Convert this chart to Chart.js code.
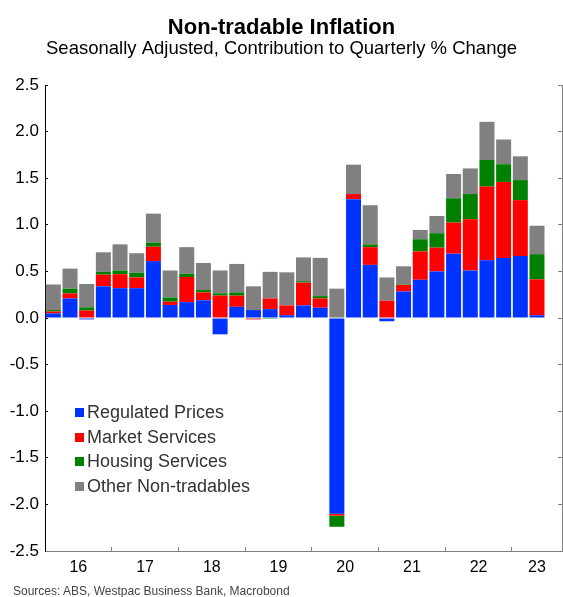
<!DOCTYPE html>
<html>
<head>
<meta charset="utf-8">
<script src="https://cdn.jsdelivr.net/npm/chart.js@4.4.0/dist/chart.umd.min.js"></script>
<style>
  html, body { margin: 0; padding: 0; background: #fff; }
  #wrap { position: relative; width: 563px; height: 597px; font-family: "Liberation Sans", Arial, sans-serif; }
  #legend { position: absolute; left: 75px; top: 400px; }
  .item { display: flex; align-items: center; height: 24.8px; font-size: 18px; color: #333; white-space: nowrap; }
  .box { width: 9px; height: 9px; margin-right: 3px; }
  #source { position: absolute; left: 13px; top: 584px; font-size: 12px; color: #444; white-space: nowrap; }
</style>
</head>
<body>
<div id="wrap">
  <canvas id="chart" width="563" height="597"></canvas>
  <div id="legend"></div>
  <div id="source">Sources: ABS, Westpac Business Bank, Macrobond</div>
</div>
<script>
const quarters = [
  "2016 Q1", "2016 Q2", "2016 Q3", "2016 Q4",
  "2017 Q1", "2017 Q2", "2017 Q3", "2017 Q4",
  "2018 Q1", "2018 Q2", "2018 Q3", "2018 Q4",
  "2019 Q1", "2019 Q2", "2019 Q3", "2019 Q4",
  "2020 Q1", "2020 Q2", "2020 Q3", "2020 Q4",
  "2021 Q1", "2021 Q2", "2021 Q3", "2021 Q4",
  "2022 Q1", "2022 Q2", "2022 Q3", "2022 Q4",
  "2023 Q1", "2023 Q2"
];

const regulated = [0.05, 0.21, -0.015, 0.34, 0.32, 0.32, 0.61, 0.14, 0.17, 0.19, -0.175, 0.12, 0.085, 0.095, 0.03,
  0.135, 0.11, -2.1, 1.275, 0.57, -0.035, 0.285, 0.41, 0.5, 0.69, 0.51, 0.62, 0.645, 0.665, 0.03];
const market = [0.02, 0.055, 0.08, 0.125, 0.15, 0.115, 0.155, 0.035, 0.27, 0.085, 0.24, 0.12, -0.015, 0.115, 0.105,
  0.245, 0.1, -0.02, 0.055, 0.19, 0.185, 0.07, 0.305, 0.255, 0.335, 0.55, 0.79, 0.815, 0.6, 0.385];
const housing = [0.015, 0.05, 0.035, 0.03, 0.04, 0.05, 0.045, 0.045, 0.035, 0.025, 0.025, 0.035, 0, -0.01, 0,
  0.015, 0.025, -0.12, 0, 0.03, 0, 0.005, 0.13, 0.155, 0.26, 0.27, 0.285, 0.19, 0.215, 0.27];
const other = [0.275, 0.215, 0.25, 0.21, 0.28, 0.21, 0.31, 0.29, 0.285, 0.29, 0.245, 0.305, 0.255, 0.285, 0.355,
  0.255, 0.41, 0.315, 0.315, 0.42, 0.25, 0.195, 0.1, 0.185, 0.26, 0.275, 0.41, 0.265, 0.255, 0.305];

const years = [2016, 2017, 2018, 2019, 2020, 2021, 2022, 2023];
const yearLabels = ["16", "17", "18", "19", "20", "21", "22", "23"];

const xMin = 2016, xMax = 2023.75;

// quarter -> position on a continuous year axis (middle of the quarter)
const xPos = quarters.map(q => {
  const [y, n] = q.split(" Q");
  return Number(y) + (Number(n) - 0.5) / 4;
});
const yearBounds = years.slice(1);
const yearCentres = years.map(y => (y + Math.min(y + 1, xMax)) / 2);

const fontFamily = '"Liberation Sans", Arial, sans-serif';
Chart.defaults.font.family = fontFamily;

const chart = new Chart(document.getElementById("chart"), {
  type: "bar",
  data: {
    labels: xPos,
    datasets: [
      { label: "Regulated Prices", data: regulated, backgroundColor: "#0033ff" },
      { label: "Market Services", data: market, backgroundColor: "#ff0000" },
      { label: "Housing Services", data: housing, backgroundColor: "#008000" },
      { label: "Other Non-tradables", data: other, backgroundColor: "#808080" }
    ]
  },
  options: {
    responsive: false,
    animation: false,
    barPercentage: 0.9,
    categoryPercentage: 1,
    layout: { padding: 0 },
    plugins: {
      legend: { display: false },
      tooltip: { enabled: false },
      title: {
        display: true,
        text: "Non-tradable Inflation",
        color: "#000",
        font: { size: 22, weight: "bold", lineHeight: 1 },
        padding: { top: 17, bottom: 0 }
      },
      subtitle: {
        display: true,
        text: "Seasonally Adjusted, Contribution to Quarterly % Change",
        color: "#000",
        font: { size: 18.5, lineHeight: 1 },
        padding: { top: 1, bottom: 26.5 }
      }
    },
    scales: {
      x: {
        type: "linear",
        min: xMin,
        max: xMax,
        offset: false,
        stacked: true,
        weight: 0,
        afterBuildTicks: s => { s.ticks = yearBounds.map(v => ({ value: v })); },
        afterFit: s => { s.height = 0; },
        ticks: { display: false },
        grid: { offset: false, drawOnChartArea: false, tickLength: -4, color: "#808080" },
        border: { color: "#808080" }
      },
      xl: {
        type: "linear",
        position: "bottom",
        min: xMin,
        max: xMax,
        offset: false,
        weight: 1,
        afterBuildTicks: s => { s.ticks = yearCentres.map(v => ({ value: v })); },
        afterFit: s => { s.height = 46; },
        grid: { display: false, drawTicks: false, offset: false },
        border: { display: false },
        ticks: {
          padding: 7,
          color: "#000",
          font: { size: 16 },
          maxRotation: 0,
          autoSkip: false,
          callback: (v, i) => yearLabels[i]
        }
      },
      y: {
        position: "left",
        min: -2.5,
        max: 2.5,
        stacked: true,
        afterFit: s => { s.width = 45; },
        ticks: {
          stepSize: 0.5,
          padding: 9,
          color: "#000",
          font: { size: 17 },
          callback: v => v.toFixed(1)
        },
        grid: { drawOnChartArea: false, tickLength: -3, color: "#000" },
        border: { color: "#000" }
      },
      y2: {
        position: "right",
        min: -2.5,
        max: 2.5,
        afterFit: s => { s.width = 1; },
        ticks: { stepSize: 0.5, display: false },
        grid: { drawOnChartArea: false, tickLength: -4, color: "#808080" },
        border: { color: "#808080" }
      }
    }
  }
});

// legend inside the plot, built from the chart's datasets
const legendEl = document.getElementById("legend");
chart.data.datasets.forEach(ds => {
  const item = document.createElement("div");
  item.className = "item";
  const box = document.createElement("span");
  box.className = "box";
  box.style.background = ds.backgroundColor;
  const txt = document.createElement("span");
  txt.textContent = ds.label;
  item.appendChild(box);
  item.appendChild(txt);
  legendEl.appendChild(item);
});
</script>
</body>
</html>
